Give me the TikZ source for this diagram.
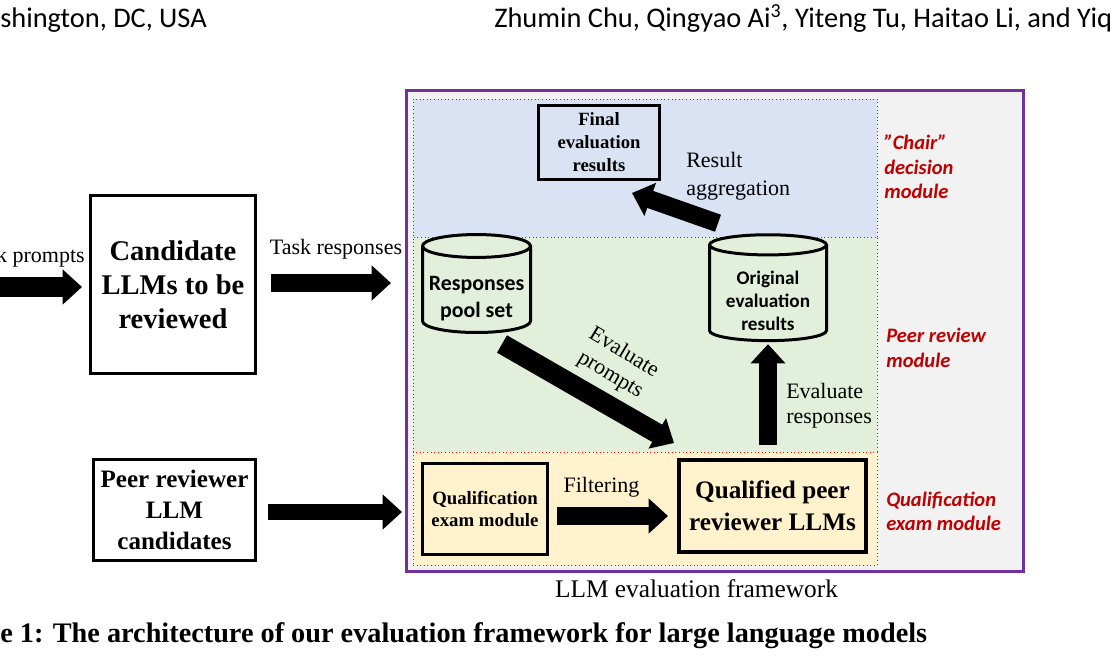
\documentclass[tikz,border=0pt]{standalone}
\usepackage{fontspec}
\setmainfont{Liberation Serif}
\newfontfamily\carlito{Carlito}
\usepackage{tikz}
\usetikzlibrary{arrows.meta, positioning, shapes.geometric, calc}
\definecolor{framegray}{HTML}{F2F2F2}
\definecolor{framepurple}{HTML}{7030A0}
\definecolor{chairblue}{HTML}{DAE3F3}
\definecolor{peergreen}{HTML}{E2EFDA}
\definecolor{qualyellow}{HTML}{FFF2CC}
\definecolor{modred}{HTML}{C00000}

\begin{document}
\begin{tikzpicture}[
    x=0.75pt, y=-0.75pt,
    llmbox/.style={draw,line width=2.25pt,align=center,inner sep=0pt},
    region/.style={draw=red,dotted,line width=0.7pt,inner sep=0pt,minimum width=348pt},
    dbcyl/.style={cylinder,shape border rotate=90,aspect=0.24,draw,line width=2.25pt,
      fill=peergreen,align=center,inner sep=0pt},
    blockarrow/.style={line width=13.5pt,-{Triangle[length=14.5pt,width=25.5pt]}},
    lbl/.style={font=\fontsize{16.5}{20}\selectfont,inner sep=0pt},
    modlbl/.style={font=\carlito\bfseries\itshape\fontsize{15.4}{18.5}\selectfont,
      text=modred,align=left,anchor=west,inner sep=0pt},
    hdr/.style={font=\carlito\fontsize{21.3}{25}\selectfont,anchor=base west,inner sep=0pt}
  ]
  \useasboundingbox (0,0) rectangle (1115,663);
  \clip (0,0) rectangle (1115,663);

  % page header and caption
  \node[hdr] (hdleft) at (0,28) {shington, DC, USA};
  \node[hdr] (hdright) at (494,28) {Zhumin Chu, Qingyao Ai\textsuperscript{3}, Yiteng Tu, Haitao Li, and Yiq};
  \node[anchor=base west,inner sep=0pt,font=\bfseries\fontsize{21.2}{24}\selectfont] (caption)
    at (0,642) {e 1: The architecture of our evaluation framework for large language models};

  % framework and its three modules
  \node[draw=framepurple,line width=2.25pt,fill=framegray,inner sep=0pt,
    minimum width=462.75pt,minimum height=360.75pt] (frame) at (715,331) {};
  \node[region,fill=chairblue,minimum height=103.5pt] (chairreg) at (645,168) {};
  \node[region,fill=peergreen,minimum height=161.25pt] (peerreg) at (645,344.5) {};
  \node[region,fill=qualyellow,minimum height=84.75pt] (qualreg) at (645,508.5) {};

  % outside boxes
  \node[llmbox,minimum width=123.75pt,minimum height=133.5pt,
    font=\bfseries\fontsize{21.4}{25.5}\selectfont] (cand) at (173,284.5) {Candidate\\LLMs to be\\reviewed};
  \node[llmbox,minimum width=121.5pt,minimum height=75.75pt,
    font=\bfseries\fontsize{18.8}{23.25}\selectfont] (peer) at (174.5,510) {Peer reviewer\\LLM\\candidates};

  % inside boxes
  \node[llmbox,fill=chairblue,minimum width=90.75pt,minimum height=55.5pt,
    font=\bfseries\fontsize{14}{17.25}\selectfont] (final) at (599,142.5) {Final\\evaluation\\results};
  \node[llmbox,fill=qualyellow,minimum width=93.75pt,minimum height=68.25pt,
    font=\bfseries\fontsize{14.1}{16.5}\selectfont] (qexam) at (485,509) {Qualification\\exam module};
  \node[llmbox,fill=qualyellow,line width=3pt,minimum width=140.25pt,minimum height=69pt,
    font=\bfseries\fontsize{18.9}{24}\selectfont] (qual) at (772.5,506) {Qualified peer\\reviewer LLMs};

  % database cylinders (strut pushes the text below the top cap)
  \node[dbcyl,minimum width=81pt,minimum height=69.75pt,
    font=\carlito\bfseries\fontsize{16.4}{20}\selectfont] (resp) at (476.5,290)
    {\rule{0pt}{24pt}Responses\\pool set};
  \node[dbcyl,minimum width=87.75pt,minimum height=75pt,
    font=\carlito\bfseries\fontsize{14.4}{17.25}\selectfont] (orig) at (768,293.5)
    {\rule{0pt}{21pt}Original\\evaluation\\results};

  % connector labels
  \node[lbl,anchor=base east] (promptlbl) at (85,263) {k prompts};
  \node[lbl,anchor=base] (resplbl) at (336,255) {Task responses};
  \node[lbl,align=left,anchor=west,font=\fontsize{16.5}{21}\selectfont] (agglbl) at (686,176) {Result\\aggregation};
  \node[lbl,align=center,rotate=-31,font=\fontsize{16.5}{19.5}\selectfont] (evplbl) at (617,364) {Evaluate\\prompts};
  \node[lbl,align=left,anchor=west,font=\fontsize{16.5}{18.75}\selectfont] (evrlbl) at (786,405.5) {Evaluate\\responses};
  \node[lbl,anchor=base] (filtlbl) at (601.5,492) {Filtering};
  \node[lbl,anchor=base,font=\fontsize{19}{23}\selectfont] (framelbl) at (696.5,597) {LLM evaluation framework};

  % module labels
  \node[modlbl] (chairlbl) at (884,167) {”Chair”\\decision\\module};
  \node[modlbl] (peerlbl) at (886,348) {Peer review\\module};
  \node[modlbl] (quallbl) at (886,511.5) {Qualification\\exam module};

  % block arrows
  \coordinate (leftedge) at (0,287);
  \coordinate (frameentry) at (cand.east -| frame.west);
  \coordinate (peerentry) at (peer.east -| frame.west);
  \coordinate (qualentry) at (qexam.east -| qual.west);
  \coordinate (qualtop) at (orig.south |- qual.north);
  \draw[blockarrow,line width=15pt] (leftedge) -- ([shift={(-7,2.5)}]cand.west);
  \draw[blockarrow] ([shift={(14,-1.5)}]cand.east) -- ([shift={(-14,-1.5)}]frameentry);
  \draw[blockarrow,line width=11.5pt] ([shift={(11,2)}]peer.east) -- ([shift={(-3,2)}]peerentry);
  \draw[blockarrow] ([shift={(8,7)}]qexam.east) -- ([shift={(-9,7)}]qualentry);
  \draw[blockarrow,line width=15pt] ([shift={(25.5,10)}]resp.south) -- ([shift={(-3,-15)}]qual.north west);
  \draw[blockarrow,line width=14pt] ([shift={(0,-13)}]qualtop) -- ([shift={(0,2)}]orig.south);
  \draw[blockarrow] ([shift={(-50,-10)}]orig.north) -- ([shift={(-29,12)}]final.south east);
\end{tikzpicture}
\end{document}
